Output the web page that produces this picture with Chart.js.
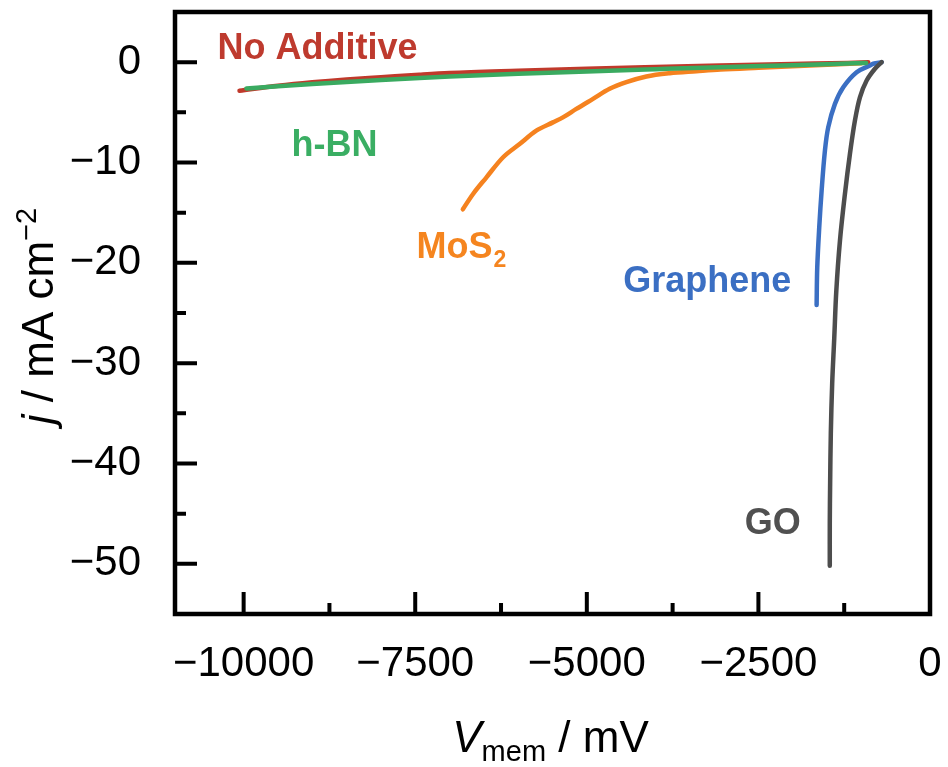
<!DOCTYPE html>
<html><head><meta charset="utf-8">
<script src="https://cdn.jsdelivr.net/npm/chart.js@4/dist/chart.umd.min.js"></script>
<style>html,body{margin:0;padding:0;background:#fff;}#wrap{width:948px;height:767px;}</style>
</head><body><div id="wrap"><canvas id="c" width="948" height="767"></canvas></div>
<script>
// ---- data (V_mem in mV, j in mA cm^-2) ----
const noAdditiveV = [-10060,-9500,-9000,-8500,-8000,-7440,-7000,-6000,-5000,-4000,-3060,-2000,-1200,-900];
const noAdditiveJ = [-2.85,-2.35,-2.0,-1.72,-1.5,-1.25,-1.08,-0.85,-0.65,-0.48,-0.33,-0.18,-0.08,-0.02];
const hBNV = [-9960,-9500,-9000,-8500,-8000,-7440,-7000,-6000,-5000,-4000,-3060,-2000,-1400,-930];
const hBNJ = [-2.62,-2.4,-2.18,-1.97,-1.78,-1.58,-1.44,-1.16,-0.92,-0.7,-0.5,-0.3,-0.18,-0.08];
const mos2V = [-6806,-6660,-6465,-6223,-5979,-5736,-5494,-5348,-5153,-4910,-4667,-4424,-4132,-3792,-3403,-3053,-2500,-2000,-1500,-1000];
const mos2J = [-14.66,-13.16,-11.5,-9.5,-8.16,-6.83,-6.0,-5.5,-4.66,-3.66,-2.66,-2.0,-1.43,-1.1,-0.9,-0.73,-0.55,-0.4,-0.25,-0.1];
const grapheneV = [-704,-827,-875,-1069,-1264,-1385,-1483,-1531,-1579,-1614,-1643,-1652];
const grapheneJ = [0,-0.16,-0.33,-1.0,-2.5,-4.16,-6.5,-8.83,-12.8,-16.5,-20.5,-24.2];
const goV = [-704,-802,-923,-1021,-1094,-1167,-1240,-1312,-1365,-1395,-1425,-1445,-1455,-1460,-1460];
const goJ = [0,-0.66,-1.83,-3.5,-5.83,-9.16,-13.16,-17.8,-22.8,-27.5,-32,-37,-42,-46,-50.2];

const xTickValues = [-10000,-7500,-5000,-2500,0];
const xTickLabels = ['\u221210000','\u22127500','\u22125000','\u22122500','0'];
const xMinorValues = [-8750,-6250,-3750,-1250];
const yTickValues = [0,-10,-20,-30,-40,-50];
const yTickLabels = ['0','\u221210','\u221220','\u221230','\u221240','\u221250'];
const yMinorValues = [-5,-15,-25,-35,-45];

const seriesNames = ['No Additive','h-BN','MoS2','Graphene','GO'];

// ---- helpers ----
const pts = (xs, ys) => xs.map((x,i)=>({x:x, y:ys[i]}));
const FONT = '"Liberation Sans", Arial, Helvetica, sans-serif';

const colors = {
  red:'#c0392b', green:'#3aaa60', orange:'#f5821f', blue:'#3b6fc3', gray:'#4d4d4d'
};

function mkDs(label, data, color, order, mono){
  const d = {label, data, borderColor:color, backgroundColor:color, borderWidth:4.5,
    pointRadius:0, tension:0.35, fill:false, order, borderCapStyle:'round', borderJoinStyle:'round'};
  if (mono) d.cubicInterpolationMode = 'monotone';
  return d;
}

// label anchors in data units
const labelDefs = [
  {text:'No Additive', v:-8925, j:0.27, color:'#be3a2e', align:'center'},
  {text:'h-BN', v:-8677, j:-9.33, color:'#3aae63', align:'center'},
  {text:'MoS', sub:'2', v:-7481, j:-19.53, color:'#f5851f', align:'left'},
  {text:'Graphene', v:-3245, j:-22.93, color:'#3b6fc3', align:'center'},
  {text:'GO', v:-2290, j:-47.03, color:'#505050', align:'center'}
];

function zeroPad(s){ s.paddingTop = 0; s.paddingBottom = 0; s.paddingLeft = 0; s.paddingRight = 0; }

const decor = {
  id:'decor',
  afterDatasetsDraw(chart){
    const ctx = chart.ctx, a = chart.chartArea;
    const xs = chart.scales.x, ys = chart.scales.y;
    ctx.save();
    ctx.strokeStyle = '#000';
    ctx.lineCap = 'butt';
    // ticks
    ctx.lineWidth = 4;
    ctx.beginPath();
    xTickValues.forEach(v=>{const p=xs.getPixelForValue(v); ctx.moveTo(p,a.bottom); ctx.lineTo(p,a.bottom-22);});
    xMinorValues.forEach(v=>{const p=xs.getPixelForValue(v); ctx.moveTo(p,a.bottom); ctx.lineTo(p,a.bottom-11);});
    yTickValues.forEach(v=>{const p=ys.getPixelForValue(v); ctx.moveTo(a.left,p); ctx.lineTo(a.left+22,p);});
    yMinorValues.forEach(v=>{const p=ys.getPixelForValue(v); ctx.moveTo(a.left,p); ctx.lineTo(a.left+11,p);});
    ctx.stroke();
    // frame
    ctx.lineWidth = 4.5;
    ctx.lineJoin = 'miter';
    ctx.strokeRect(a.left, a.top, a.right-a.left, a.bottom-a.top);

    // series labels
    labelDefs.forEach(d=>{
      const x = xs.getPixelForValue(d.v), y = ys.getPixelForValue(d.j);
      ctx.fillStyle = d.color;
      ctx.textBaseline = 'alphabetic';
      ctx.font = 'bold 36px ' + FONT;
      ctx.textAlign = d.align;
      ctx.fillText(d.text, x, y);
      if (d.sub){
        const w = ctx.measureText(d.text).width;
        ctx.font = 'bold 23px ' + FONT;
        ctx.textAlign = 'left';
        ctx.fillText(d.sub, x + w + 1, y + 9);
      }
    });

    // x title: V_mem / mV
    const cx = (a.left + a.right)/2, by = 752;
    const f1 = '44px ' + FONT, fi = 'italic 44px ' + FONT, fs = '29px ' + FONT;
    ctx.fillStyle = '#000';
    ctx.textAlign = 'left';
    ctx.font = fi; const wV = ctx.measureText('V').width;
    ctx.font = fs; const wm = ctx.measureText('mem').width;
    ctx.font = f1; const wr = ctx.measureText(' / mV').width;
    let sx = cx - (wV + wm + wr)/2 - 2;
    ctx.font = fi; ctx.fillText('V', sx, by); sx += wV;
    ctx.font = fs; ctx.fillText('mem', sx, by + 9); sx += wm;
    ctx.font = f1; ctx.fillText(' / mV', sx, by);

    // y title: j / mA cm^-2
    ctx.translate(53, (a.top + a.bottom)/2 + 3);
    ctx.rotate(-Math.PI/2);
    ctx.font = fi; const wj = ctx.measureText('j').width;
    ctx.font = f1; const wt = ctx.measureText(' / mA cm').width;
    ctx.font = fs; const ws = ctx.measureText('\u22122').width;
    let tx = -(wj + wt + ws)/2;
    ctx.font = fi; ctx.fillText('j', tx, 0); tx += wj;
    ctx.font = f1; ctx.fillText(' / mA cm', tx, 0); tx += wt;
    ctx.font = fs; ctx.fillText('\u22122', tx, -17);
    ctx.restore();
  }
};

new Chart(document.getElementById('c'), {
  type:'line',
  data:{ datasets:[
    mkDs(seriesNames[0], pts(noAdditiveV, noAdditiveJ), colors.red, 4, true),
    mkDs(seriesNames[2], pts(mos2V, mos2J), colors.orange, 3, true),
    mkDs(seriesNames[3], pts(grapheneV, grapheneJ), colors.blue, 2, false),
    mkDs(seriesNames[4], pts(goV, goJ), colors.gray, 1, false),
    mkDs(seriesNames[1], pts(hBNV, hBNJ), colors.green, 0, true)
  ]},
  options:{
    responsive:false, animation:false, devicePixelRatio:1,
    layout:{padding:{left:0, right:18, top:12, bottom:0}},
    plugins:{legend:{display:false}, tooltip:{enabled:false}},
    scales:{
      x:{type:'linear', min:-11000, max:0,
        grid:{display:false}, border:{display:false},
        afterBuildTicks(s){ s.ticks = xTickValues.map(v=>({value:v})); },
        afterFit(s){ s.height = 153; zeroPad(s); },
        ticks:{padding:17, color:'#000', maxRotation:0, autoSkip:false,
          font:{family:FONT, size:42, lineHeight:1.2},
          callback:(v)=>{const i=xTickValues.indexOf(v); return i>=0?xTickLabels[i]:'';}}
      },
      y:{type:'linear', min:-55, max:5,
        grid:{display:false}, border:{display:false},
        afterBuildTicks(s){ s.ticks = yTickValues.map(v=>({value:v})); },
        afterFit(s){ s.width = 175; zeroPad(s); },
        ticks:{padding:26, color:'#000', autoSkip:false,
          font:{family:FONT, size:42, lineHeight:1.2},
          callback:(v)=>{const i=yTickValues.indexOf(v); return i>=0?yTickLabels[i]:'';}}
      }
    }
  },
  plugins:[decor]
});
</script></body></html>
